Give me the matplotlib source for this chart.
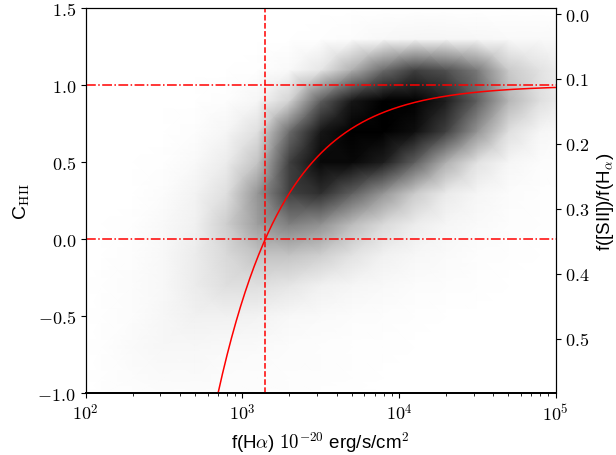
import numpy as np
import matplotlib
matplotlib.use('Agg')
import matplotlib.pyplot as plt
from matplotlib.ticker import FuncFormatter

plt.rcParams['font.family'] = ['Liberation Sans', 'DejaVu Sans']
plt.rcParams['mathtext.fontset'] = 'cm'

# model: C_HII = 1 - f0/f(Halpha)
f0 = 1400.0

# density of the point cloud (0 = empty, 1 = black)
logf_nodes = [2.0, 2.1, 2.3, 2.5, 2.7, 2.9, 3.1, 3.3, 3.5, 3.7, 3.9, 4.1, 4.3, 4.5, 4.7, 4.9, 5.0]
c_nodes = [-1.0, -0.9, -0.7, -0.5, -0.3, -0.1, 0.1, 0.3, 0.5, 0.7, 0.9, 1.1, 1.3, 1.5]
density = [
    [0, .01, .02, .03, .03, .03, .02, .02, .01, .01, 0, 0, 0, 0, 0, 0, 0],
    [0, .01, .03, .04, .04, .03, .03, .02, .02, .01, 0, 0, 0, 0, 0, 0, 0],
    [0, .01, .04, .07, .07, .05, .04, .03, .02, .01, .01, 0, 0, 0, 0, 0, 0],
    [0, .01, .03, .07, .12, .12, .10, .06, .04, .03, .02, .01, 0, 0, 0, 0, 0],
    [0, .01, .03, .06, .15, .22, .22, .18, .12, .08, .05, .03, .02, .01, 0, 0, 0],
    [0, 0, .02, .06, .15, .25, .35, .35, .30, .20, .12, .07, .04, .02, .01, 0, 0],
    [0, 0, .01, .05, .12, .30, .48, .58, .52, .38, .25, .15, .08, .04, .02, .01, .01],
    [0, 0, 0, .03, .10, .22, .50, .80, .85, .70, .50, .32, .16, .08, .03, .01, .01],
    [0, 0, 0, .01, .05, .15, .35, .80, .97, .97, .90, .70, .42, .20, .08, .03, .02],
    [0, 0, 0, 0, .02, .08, .22, .65, .92, 1.0, 1.0, .95, .80, .50, .22, .08, .05],
    [0, 0, 0, 0, 0, .02, .08, .28, .70, .92, 1.0, 1.0, .90, .70, .40, .22, .16],
    [0, 0, 0, 0, 0, 0, .01, .05, .18, .42, .65, .80, .75, .60, .32, .20, .15],
    [0, 0, 0, 0, 0, 0, 0, 0, .01, .03, .06, .08, .08, .07, .05, .05, .04],
    [0, 0, 0, 0, 0, 0, 0, 0, 0, 0, 0, 0, 0, 0, 0, 0, 0],
]

# right axis ratio at the top and bottom of the C_HII range
ratio_top = -0.0088
ratio_bottom = 0.584
ratio_ticks = [0.0, 0.1, 0.2, 0.3, 0.4, 0.5]

fig = plt.figure(figsize=(6.16, 4.56), dpi=100)
ax = fig.add_axes([0.139, 0.1353, 0.763, 0.8443])

fx, cy = np.meshgrid(10 ** np.array(logf_nodes), np.array(c_nodes))
ax.pcolormesh(fx, cy, np.array(density), shading='gouraud', cmap='Greys',
              vmin=0, vmax=1, rasterized=True, zorder=1)

ax.axhline(1.0, color='red', ls='-.', lw=1.1, zorder=3)
ax.axhline(0.0, color='red', ls='-.', lw=1.1, zorder=3)
ax.axvline(f0, color='red', ls='--', lw=1.1, zorder=3)

f = np.logspace(np.log10(f0 / 2.0), 5, 300)
ax.plot(f, 1 - f0 / f, color='red', lw=1.1, zorder=4)

ax.set_xscale('log')
ax.set_xlim(1e2, 1e5)
ax.set_ylim(-1.0, 1.5)
ax.set_yticks([-1.0, -0.5, 0.0, 0.5, 1.0, 1.5])
ax.xaxis.set_major_formatter(FuncFormatter(lambda v, p: r'$10^{%d}$' % round(np.log10(v))))
ax.yaxis.set_major_formatter(FuncFormatter(lambda v, p: r'$%.1f$' % v))
ax.tick_params(labelsize=13)
ax.set_xlabel(r'f(H$\alpha$) $10^{-20}$ erg/s/cm$^2$', fontsize=13.5)
ax.set_ylabel(r'C$_{\rm HII}$', fontsize=14)
ax.spines['bottom'].set_linewidth(1.3)

ax2 = ax.twinx()
ax2.set_ylim(ratio_bottom, ratio_top)
ax2.set_yticks(ratio_ticks)
ax2.yaxis.set_major_formatter(FuncFormatter(lambda v, p: r'$%.1f$' % v))
ax2.tick_params(labelsize=13)
ax2.set_ylabel(r'f([SII])/f(H$_\alpha$)', fontsize=13.5)
ax2.spines['bottom'].set_linewidth(1.3)

fig.savefig('out.png', dpi=100)
